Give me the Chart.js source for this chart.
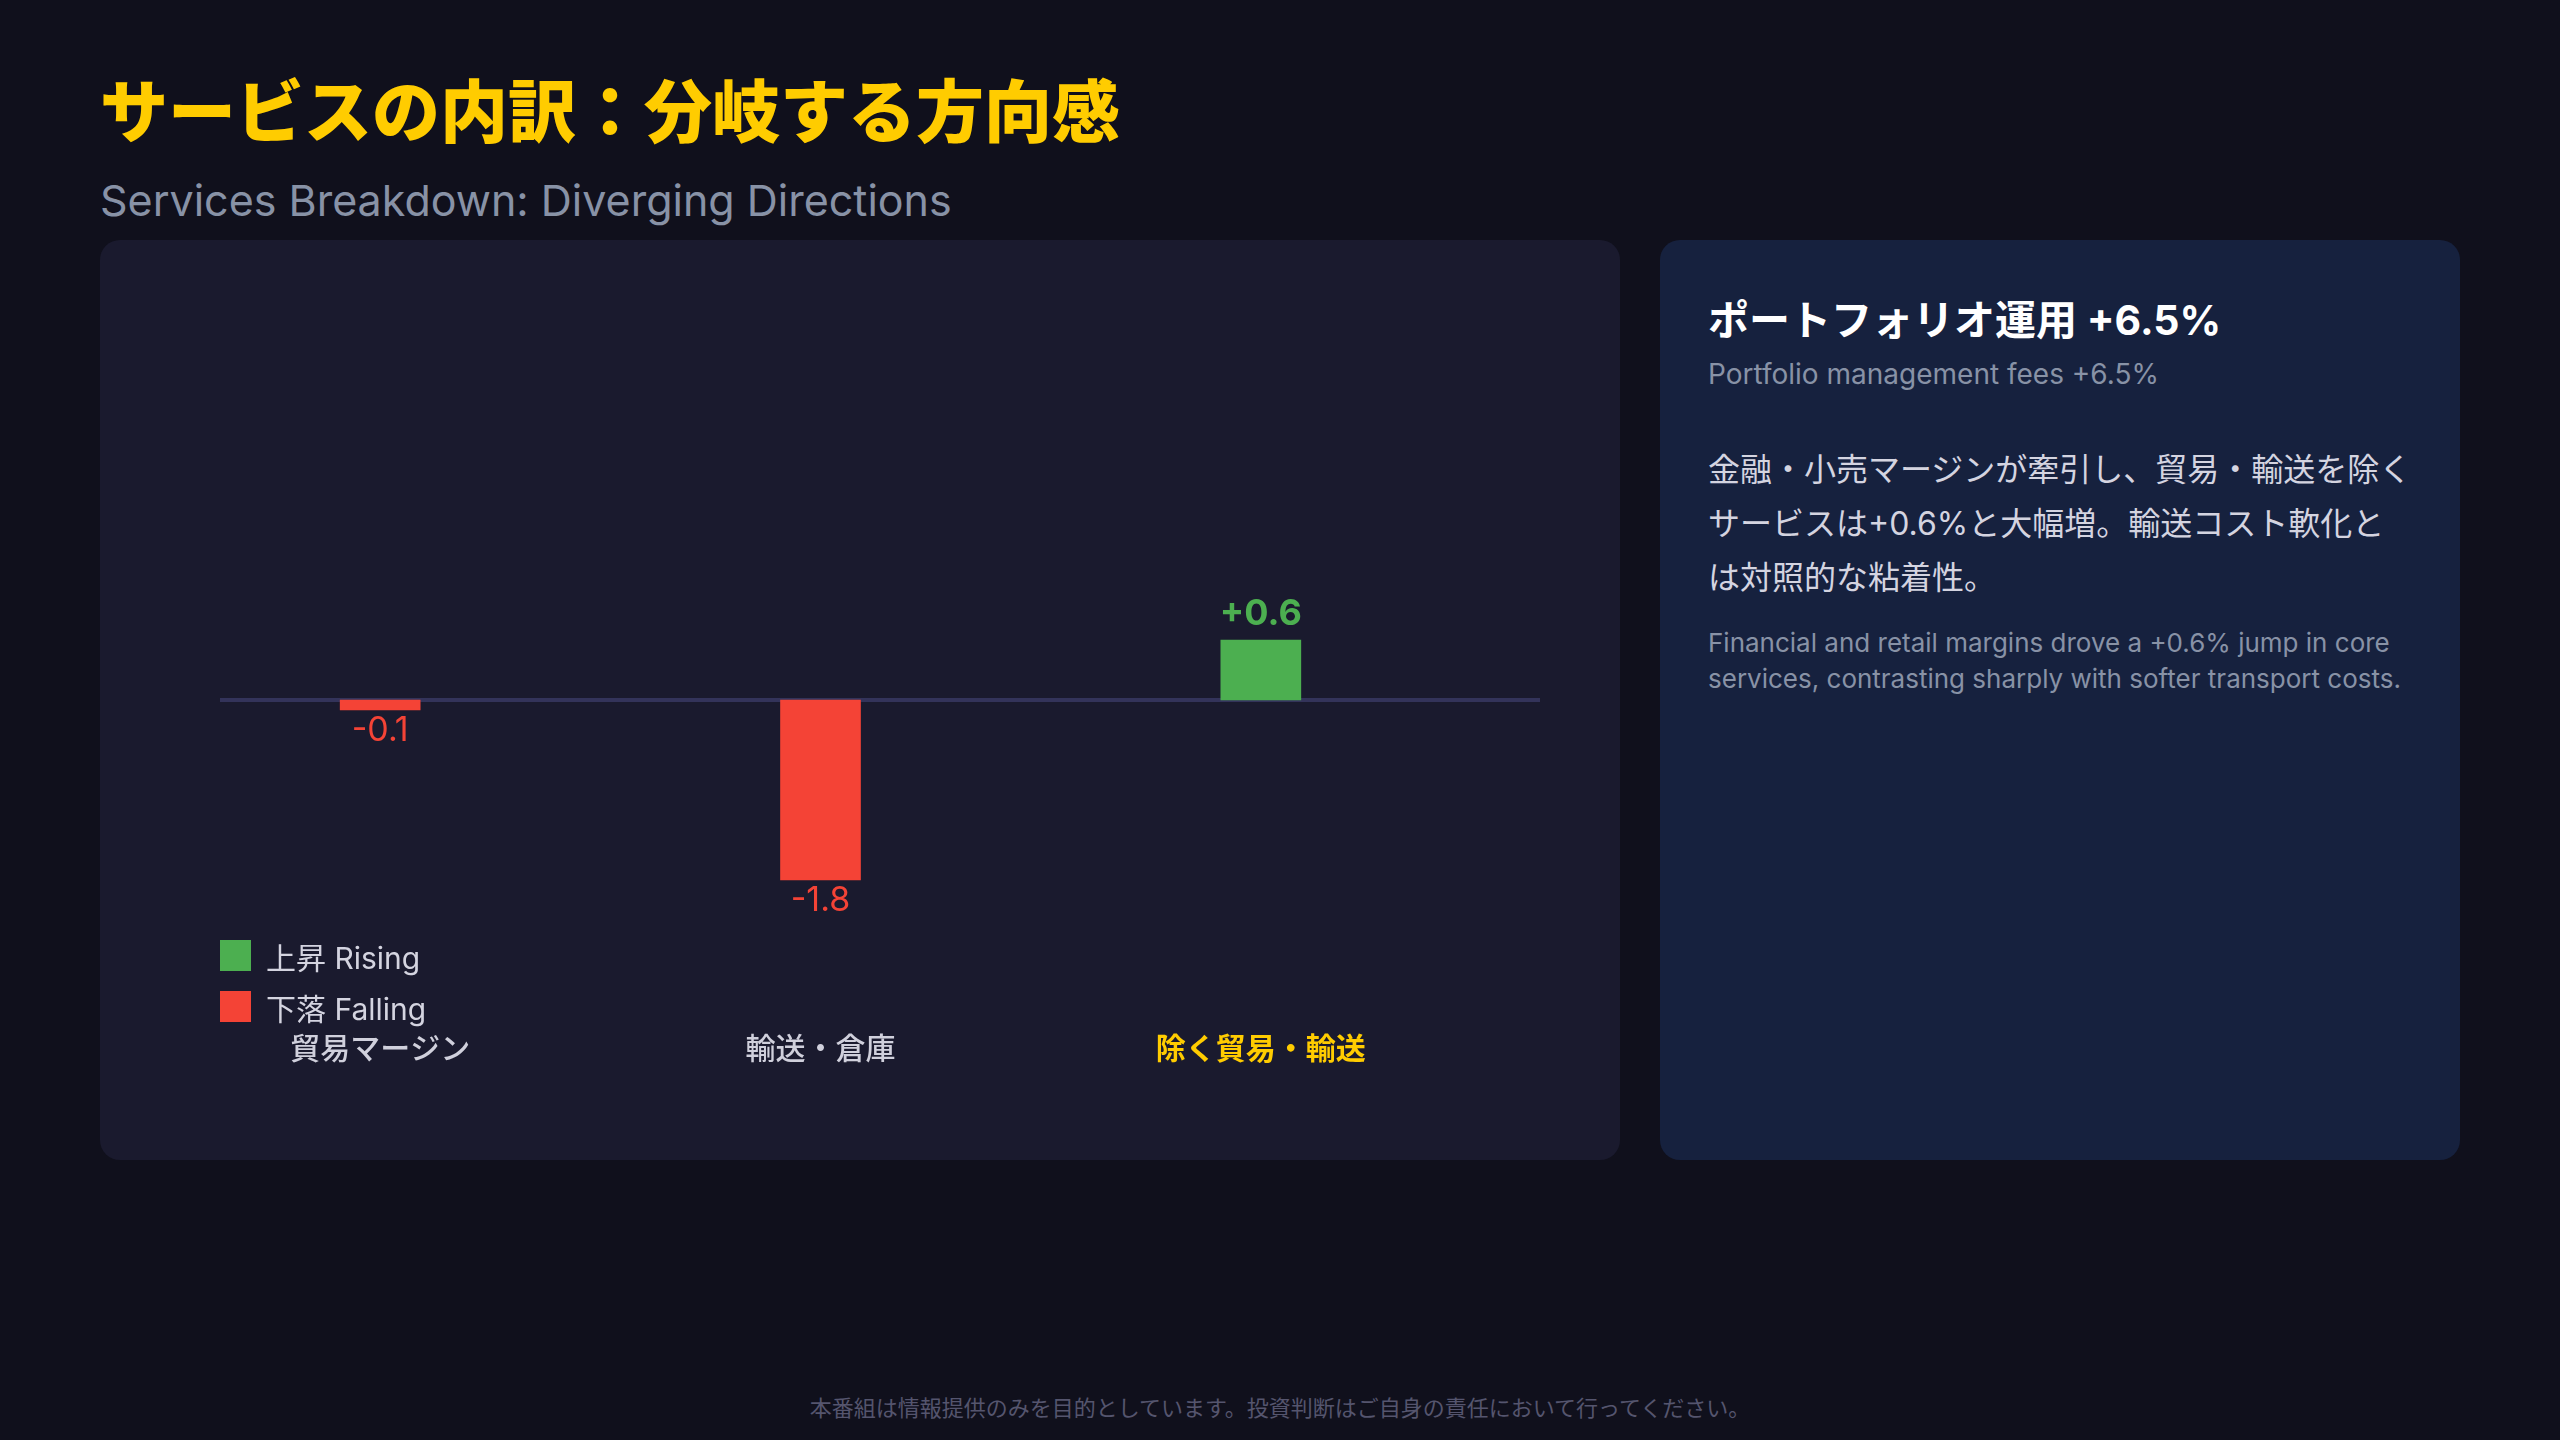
<!DOCTYPE html>
<html lang="ja">
<head>
<meta charset="utf-8">
<title>サービスの内訳</title>
<script src="https://cdn.jsdelivr.net/npm/chart.js@4.4.1/dist/chart.umd.min.js"></script>
<style>
  * { margin: 0; padding: 0; box-sizing: border-box; }
  body {
    width: 2560px; height: 1440px; overflow: hidden; position: relative;
    background: #10101c;
    font-family: "Inter", "Noto Sans CJK JP", sans-serif;
  }
  .title {
    position: absolute; left: 100px; top: 74px;
    font-size: 68px; line-height: 1; font-weight: 900; color: #ffcc00;
    font-family: "Noto Sans CJK JP", sans-serif;
  }
  .subtitle {
    position: absolute; left: 100px; top: 175px;
    font-size: 43px; line-height: 50px; color: #8892a6;
  }
  .card {
    position: absolute; top: 240px; height: 920px; border-radius: 20px;
  }
  #chart-card { left: 100px; width: 1520px; background: #1a1a2e; }
  #side-card { left: 1660px; width: 800px; background: #16213e; }
  #chart-card canvas { position: absolute; left: 0; top: 0; }
  .legend { position: absolute; left: 120px; top: 700px; }
  .legend-item { display: flex; align-items: center; height: 31px; margin-bottom: 20px;
    font-size: 30px; color: #d4d4e0; }
  .legend-item span.box { width: 31px; height: 31px; margin-right: 15px; }
  .side-h { position: absolute; left: 48px; top: 56px; font-size: 41px; line-height: 48px;
    font-weight: 700; color: #ffffff; }
  .side-sub { position: absolute; left: 48px; top: 116px; font-size: 28px; line-height: 36px; color: #8892a6; }
  .side-jp { position: absolute; left: 48px; top: 203px; width: 720px; font-size: 32px; line-height: 54px; color: #d4d4e0; }
  .side-en { position: absolute; left: 48px; top: 385px; width: 720px; font-size: 26px; line-height: 36px; color: #8892a6; }
  .footer { position: absolute; left: 0; width: 2560px; top: 1393px; text-align: center;
    font-size: 22px; line-height: 30px; color: #55556e; }
</style>
</head>
<body>
<div class="title">サービスの内訳：分岐する方向感</div>
<div class="subtitle">Services Breakdown: Diverging Directions</div>

<div class="card" id="chart-card">
  <canvas id="servicesChart" width="1520" height="920"></canvas>
  <div class="legend">
    <div class="legend-item"><span class="box" style="background:#4caf50"></span>上昇 Rising</div>
    <div class="legend-item"><span class="box" style="background:#f44336"></span>下落 Falling</div>
  </div>
</div>

<div class="card" id="side-card">
  <div class="side-h">ポートフォリオ運用 +6.5%</div>
  <div class="side-sub">Portfolio management fees +6.5%</div>
  <div class="side-jp">金融・小売マージンが牽引し、貿易・輸送を除く<br>サービスは+0.6%と大幅増。輸送コスト軟化と<br>は対照的な粘着性。</div>
  <div class="side-en">Financial and retail margins drove a +0.6% jump in core<br>services, contrasting sharply with softer transport costs.</div>
</div>

<div class="footer">本番組は情報提供のみを目的としています。投資判断はご自身の責任において行ってください。</div>

<script>
  // Data
  const categories = ['貿易マージン', '輸送・倉庫', '除く貿易・輸送'];
  const changes = [-0.1, -1.8, 0.6];
  const highlighted = [false, false, true];

  const GREEN = '#4caf50';
  const RED = '#f44336';
  const YELLOW = '#ffcc00';

  // Zero line (slightly offset from category area, as in the source layout)
  const zeroLine = {
    id: 'zeroLine',
    beforeDatasetsDraw(chart) {
      const { ctx, chartArea, scales } = chart;
      const y = scales.y.getPixelForValue(0);
      ctx.save();
      ctx.strokeStyle = '#33335a';
      ctx.lineWidth = 4;
      ctx.beginPath();
      ctx.moveTo(chartArea.left + 60, y);
      ctx.lineTo(chartArea.right + 59, y);
      ctx.stroke();
      ctx.restore();
    }
  };

  // Value labels above / below bars
  const valueLabels = {
    id: 'valueLabels',
    afterDatasetsDraw(chart) {
      const { ctx } = chart;
      const meta = chart.getDatasetMeta(0);
      ctx.save();
      ctx.textAlign = 'center';
      meta.data.forEach((bar, i) => {
        const v = changes[i];
        if (v >= 0) {
          ctx.font = 'bold 36px Inter, "Noto Sans CJK JP", sans-serif';
          ctx.fillStyle = GREEN;
          ctx.textBaseline = 'bottom';
          ctx.fillText('+' + v.toFixed(1), bar.x, bar.y - 8);
        } else {
          ctx.font = '34px Inter, "Noto Sans CJK JP", sans-serif';
          ctx.fillStyle = RED;
          ctx.textBaseline = 'top';
          ctx.fillText(v.toFixed(1), bar.x, bar.y + 4);
        }
      });
      ctx.restore();
    }
  };

  const ctx = document.getElementById('servicesChart').getContext('2d');
  const servicesChart = new Chart(ctx, {
    type: 'bar',
    data: {
      labels: categories,
      datasets: [{
        data: changes,
        backgroundColor: changes.map(v => v >= 0 ? GREEN : RED),
        borderWidth: 0,
        barThickness: 80
      }]
    },
    options: {
      responsive: false,
      animation: false,
      layout: { padding: { left: 60, right: 139, top: 260, bottom: 84 } },
      plugins: {
        legend: { display: false },
        tooltip: { enabled: false }
      },
      scales: {
        y: {
          display: false,
          min: -3.2,
          max: 2.0
        },
        x: {
          grid: { display: false, drawTicks: false },
          border: { display: false },
          ticks: {
            padding: 10,
            maxRotation: 0,
            color: c => highlighted[c.index] ? YELLOW : '#d0d0dc',
            font: c => ({
              size: 30,
              family: '"Noto Sans CJK JP", sans-serif',
              weight: highlighted[c.index] ? 'bold' : '500'
            })
          }
        }
      }
    },
    plugins: [zeroLine, valueLabels]
  });
</script>
</body>
</html>
